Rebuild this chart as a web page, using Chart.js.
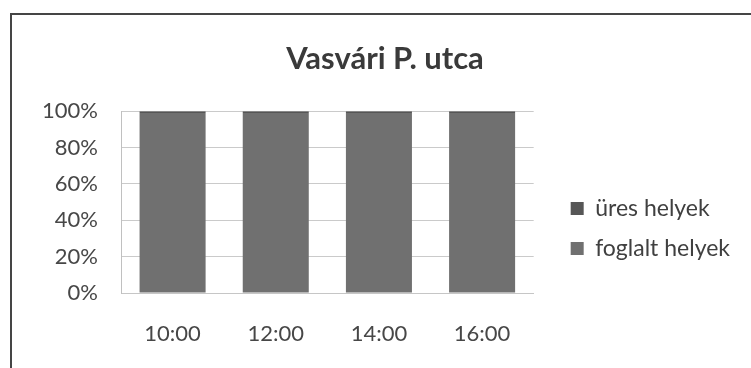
<!DOCTYPE html>
<html>
<head>
<meta charset="utf-8">
<script src="https://cdn.jsdelivr.net/npm/chart.js@4/dist/chart.umd.min.js"></script>
<style>
  html, body { margin: 0; padding: 0; background: #fff; overflow: hidden; width: 751px; height: 368px; }
  #frame { position: absolute; left: 10px; top: 13px; width: 760px; height: 460px;
           border-left: 2px solid #454545; border-top: 2px solid #454545; box-sizing: border-box; }
  #wrap { position: absolute; left: 0; top: 0; width: 770px; height: 457px; }
</style>
</head>
<body>
<div id="frame"></div>
<div id="wrap"><canvas id="c" width="770" height="457"></canvas></div>
<script>
// Parking occupancy at Vasvári P. utca, share of places per time slot
const chartTitle = 'Vasvári P. utca';
const categories = ['10:00', '12:00', '14:00', '16:00'];
const foglaltHelyek = [99, 99, 99, 99];   // occupied places, %
const uresHelyek = [1, 1, 1, 1];          // free places, %
const yTickLabels = ['0%', '20%', '40%', '60%', '80%', '100%'];

const FONT = 'Lato';

new Chart(document.getElementById('c'), {
  type: 'bar',
  data: {
    labels: categories,
    datasets: [
      { label: 'foglalt helyek', data: foglaltHelyek, backgroundColor: '#707070', borderWidth: 0,
        categoryPercentage: 1, barPercentage: 0.64 },
      { label: 'üres helyek', data: uresHelyek, backgroundColor: '#565656', borderWidth: 0,
        categoryPercentage: 1, barPercentage: 0.64 }
    ]
  },
  options: {
    responsive: false,
    devicePixelRatio: 1,
    animation: false,
    layout: { padding: { left: 30, right: 30, top: 0, bottom: 0 } },
    plugins: {
      title: {
        display: true,
        text: chartTitle,
        color: '#3a3a3a',
        font: { family: FONT, size: 31, weight: 'bold' },
        padding: { top: 40, bottom: 34 }
      },
      legend: {
        position: 'right',
        reverse: true,
        maxWidth: 400,
        labels: {
          boxWidth: 13,
          boxHeight: 13,
          padding: 17,
          color: '#404040',
          font: { family: FONT, size: 23 }
        }
      },
      tooltip: { enabled: false }
    },
    scales: {
      x: {
        stacked: true,
        grid: { display: false, drawTicks: false },
        border: { display: true, color: '#c6c6c6' },
        ticks: { color: '#474747', font: { family: FONT, size: 22 }, padding: 28 },
        afterFit: (s) => { s.height = 164; }
      },
      y: {
        stacked: true,
        min: 0,
        max: 100,
        grid: { color: '#cacaca', drawTicks: false },
        border: { display: true, color: '#c0c0c0' },
        ticks: {
          stepSize: 20,
          color: '#474747',
          font: { family: FONT, size: 22 },
          padding: 23,
          callback: (v, i) => yTickLabels[i]
        },
        afterFit: (s) => { s.width = 91; }
      },
      // empty band between the plot and the legend
      gap: {
        type: 'linear',
        position: 'right',
        display: true,
        grid: { display: false, drawTicks: false },
        border: { display: false },
        ticks: { display: false },
        afterFit: (s) => { s.width = 20; }
      }
    }
  }
});
</script>
</body>
</html>
